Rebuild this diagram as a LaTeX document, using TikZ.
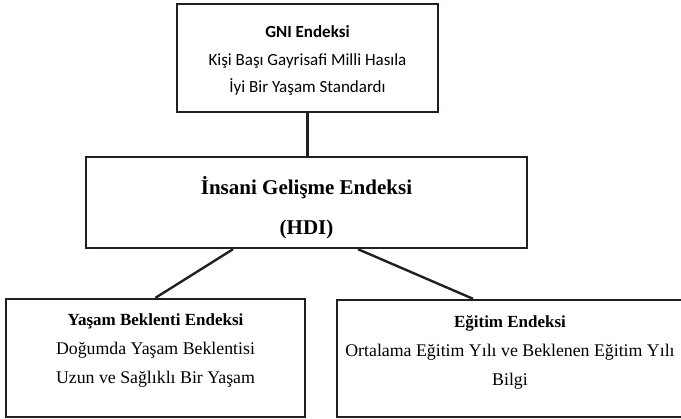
\documentclass[tikz,border=0pt]{standalone}
\usepackage{fontspec}
\setmainfont{Liberation Serif}
\newfontfamily\calibri{Carlito}
\usepackage{xcolor}
\usepackage{tikz}
\usetikzlibrary{positioning}
\definecolor{ink}{HTML}{231F20}

\begin{document}
\begin{tikzpicture}[
  x=1pt, y=-1pt,
  panel/.style={
    draw=ink,
    fill=white,
    line width=2.4pt,
    inner sep=0pt,
    align=center
  },
  link/.style={
    draw=ink,
    line width=2.4pt
  }
]
\useasboundingbox (0,0) rectangle (681,419);

\node[panel, minimum width=261pt, minimum height=108pt,
  font=\calibri\fontsize{17}{27.5}\selectfont] (gni) at (307.5,58) {%
  \begin{tabular}{@{}c@{}}
  \textbf{GNI Endeksi}\\
  Kişi Başı Gayrisafi Milli Hasıla\\
  İyi Bir Yaşam Standardı\\[-4pt]
  \end{tabular}};
\node[panel, minimum width=441pt, minimum height=91pt,
  font=\fontsize{21}{40}\selectfont\bfseries] (hdi) at (306.5,202.5) {%
  \begin{tabular}{@{}c@{}}
  İnsani Gelişme Endeksi\\
  (HDI)\\[-8pt]
  \end{tabular}};
\node[panel, minimum width=299pt, minimum height=118pt,
  font=\fontsize{17.8}{29}\selectfont] (life) at (155.5,358) {%
  \begin{tabular}{@{}c@{}}
  {\fontsize{17}{29}\selectfont\bfseries Yaşam Beklenti Endeksi}\\
  Doğumda Yaşam Beklentisi\\
  Uzun ve Sağlıklı Bir Yaşam\\[18pt]
  \end{tabular}};
\node[panel, minimum width=346pt, minimum height=117pt,
  font=\fontsize{17.8}{29}\selectfont] (edu) at (510,358.5) {%
  \begin{tabular}{@{}c@{}}
  {\fontsize{17}{29}\selectfont\bfseries Eğitim Endeksi}\\
  Ortalama Eğitim Yılı ve Beklenen Eğitim Yılı\\
  Bilgi\\[15pt]
  \end{tabular}};

\draw[link] (gni.south) -- (gni.south |- hdi.north);
\draw[link] ([xshift=-73.5pt]hdi.south) -- (life.north);
\draw[link] ([xshift=51.5pt]hdi.south) -- ([xshift=-37pt]edu.north);
\end{tikzpicture}
\end{document}
